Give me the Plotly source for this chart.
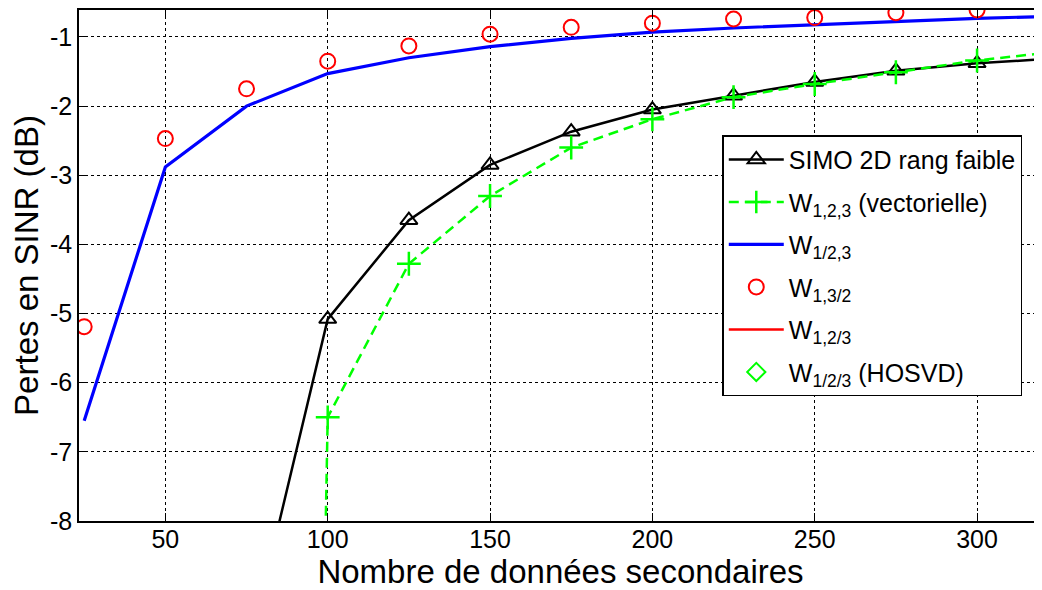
import plotly.graph_objects as go

# Nombre de données secondaires
x_simo = [75, 100, 125, 150, 175, 200, 225, 250, 275, 300, 325]
simo_2d = [-10.0, -5.08, -3.65, -2.85, -2.37, -2.05, -1.85, -1.65, -1.49, -1.38, -1.31]

x_vect = [75, 100, 125, 150, 175, 200, 225, 250, 275, 300, 325]
w123_vect = [-69.0, -6.5, -4.28, -3.3, -2.6, -2.19, -1.87, -1.68, -1.51, -1.34, -1.21]

x_full = [25, 50, 75, 100, 125, 150, 175, 200, 225, 250, 275, 300, 325]
w1_23 = [-6.55, -2.88, -2.0, -1.53, -1.3, -1.14, -1.02, -0.93, -0.87, -0.82, -0.77, -0.73, -0.70]
w1_3_2 = [-5.19, -2.47, -1.75, -1.35, -1.13, -0.96, -0.86, -0.80, -0.74, -0.72, -0.65, -0.61, None]

# series listed in the legend but not visible in the plotted range
w12_3 = []
w1_2_3_hosvd = []

x_ticks = [50, 100, 150, 200, 250, 300]
y_ticks = [-8, -7, -6, -5, -4, -3, -2, -1]

FONT = "Liberation Sans, Arial, sans-serif"

fig = go.Figure()

fig.add_trace(go.Scatter(
    x=x_simo, y=simo_2d, name="SIMO 2D rang faible", legendgroup="a",
    mode="lines+markers",
    line=dict(color="black", width=2.5),
    marker=dict(symbol="triangle-up-open", size=15, color="black", line=dict(width=2)),
))
fig.add_trace(go.Scatter(
    x=x_vect, y=w123_vect, name="W<sub>1,2,3</sub> (vectorielle)", legendgroup="b",
    mode="lines+markers",
    line=dict(color="#00ff00", width=2.5, dash="10px,6px"),
    marker=dict(symbol="cross-thin-open", size=17, color="#00ff00", line=dict(width=2.5, color="#00ff00")),
))
fig.add_trace(go.Scatter(
    x=x_full, y=w1_23, name="W<sub>1/2,3</sub>", legendgroup="c",
    mode="lines",
    line=dict(color="#0000ff", width=3.2),
))
fig.add_trace(go.Scatter(
    x=x_full, y=w1_3_2, name="W<sub>1,3/2</sub>", legendgroup="d",
    mode="markers",
    marker=dict(symbol="circle-open", size=15, color="#ff0000", line=dict(width=2)),
))
fig.add_trace(go.Scatter(
    x=w12_3 or [None], y=w12_3 or [None], name="W<sub>1,2/3</sub>", legendgroup="e",
    mode="lines",
    line=dict(color="#ff0000", width=2.5),
))
fig.add_trace(go.Scatter(
    x=w1_2_3_hosvd or [None], y=w1_2_3_hosvd or [None], name="W<sub>1/2/3</sub> (HOSVD)", legendgroup="f",
    mode="markers",
    marker=dict(symbol="diamond-open", size=14, color="#00ff00", line=dict(width=2)),
))

axis_common = dict(
    showline=True, linecolor="black", linewidth=1.5, mirror="ticks",
    ticks="inside", ticklen=8, tickcolor="black",
    showgrid=True, gridcolor="black", griddash="dot", gridwidth=1,
    zeroline=False, automargin=False,
    tickfont=dict(family=FONT, size=25, color="black"),
)

fig.update_xaxes(
    range=[23.4, 320], tickvals=x_ticks, ticktext=[str(v) for v in x_ticks],
    ticklabelstandoff=-5,
    title=dict(text="Nombre de données secondaires", font=dict(family=FONT, size=33, color="black"), standoff=7),
    **axis_common,
)
fig.update_yaxes(
    range=[-8, -0.61], tickvals=y_ticks, ticktext=[str(v) for v in y_ticks],
    title=dict(text="Pertes en SINR (dB)", font=dict(family=FONT, size=33, color="black"), standoff=4),
    **axis_common,
)

# page body has an 8px margin, so the figure is sized to fit the window
fig.update_layout(
    width=1034, height=582,
    paper_bgcolor="white", plot_bgcolor="white",
    margin=dict(l=71, r=0, t=2, b=69),
    font=dict(family=FONT, size=25, color="black"),
    showlegend=True,
    legend=dict(
        x=0.668, y=0.755, xanchor="left", yanchor="top",
        bgcolor="white", bordercolor="black", borderwidth=1.5,
        font=dict(family=FONT, size=25, color="black"),
        itemwidth=55, tracegroupgap=7,
    ),
)

fig.write_html("out.html")
